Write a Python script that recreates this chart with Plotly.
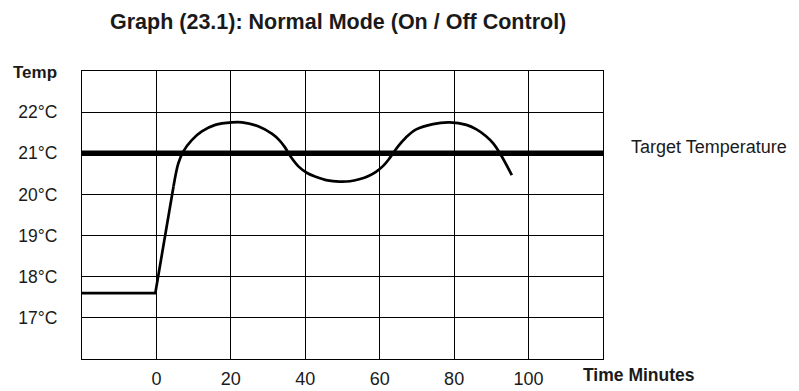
import plotly.graph_objects as go

# Data
ramp_time = [-20, -0.3, 4.6]
ramp_temp = [17.6, 17.6, 20.2]

curve_time = [4.6, 5.9, 7.2, 9.5, 12.2, 15.8, 20.3, 23.0, 27.5, 31.1, 33.0, 34.5, 36.0, 38.3, 40.5, 42.8,
              46.0, 49.1, 52.0, 54.5, 57.0, 59.0, 61.0, 62.4, 63.8, 65.2, 67.0, 69.8, 74.3, 78.8,
              83.3, 86.0, 88.5, 90.5, 92.3, 95.5]
curve_temp = [20.2, 20.76, 21.04, 21.32, 21.53, 21.69, 21.75, 21.75, 21.65, 21.47, 21.32, 21.15, 20.93, 20.67, 20.52, 20.43,
              20.34, 20.31, 20.32, 20.37, 20.45, 20.55, 20.7, 20.85, 21.03, 21.2, 21.38, 21.58, 21.71, 21.75,
              21.69, 21.58, 21.42, 21.24, 21.0, 20.47]

target_time = [-20, 120]
target_temp = [21, 21]

x_ticks = [0, 20, 40, 60, 80, 100]
x_ticklabels = ["0", "20", "40", "60", "80", "100"]
y_ticks = [17, 18, 19, 20, 21, 22]
y_ticklabels = ["17°C", "18°C", "19°C", "20°C", "21°C", "22°C"]

FONT = "Liberation Sans"
TXT = "#1a1a1a"

L, R, T, B = 82, 196, 71, 32
W, H = 799, 391

fig = go.Figure()
fig.add_trace(go.Scatter(x=target_time, y=target_temp, mode="lines",
                         line=dict(color="black", width=5.5), hoverinfo="skip"))
fig.add_trace(go.Scatter(x=ramp_time, y=ramp_temp, mode="lines",
                         line=dict(color="black", width=2.7), hoverinfo="skip"))
fig.add_trace(go.Scatter(x=curve_time, y=curve_temp, mode="lines",
                         line=dict(color="black", width=2.7, shape="spline", smoothing=1.0),
                         hoverinfo="skip"))

axis_common = dict(showgrid=True, gridcolor="black", gridwidth=1.3,
                   showline=True, linecolor="black", linewidth=1.3, mirror=True,
                   zeroline=False, ticks="", automargin=False, fixedrange=True)

fig.update_layout(
    width=W, height=H,
    margin=dict(l=L, r=R, t=T, b=B),
    paper_bgcolor="white", plot_bgcolor="white",
    showlegend=False,
    font=dict(family=FONT, color=TXT),
    xaxis=dict(range=[-20, 120], tickvals=x_ticks, ticktext=x_ticklabels,
               ticklabelstandoff=3,
               tickfont=dict(size=18, family=FONT, color=TXT), **axis_common),
    yaxis=dict(range=[16, 23], tickvals=y_ticks, ticktext=y_ticklabels,
               ticklabelstandoff=20,
               tickfont=dict(size=17.5, family=FONT, color=TXT), **axis_common),
)

pw = W - L - R
ph = H - T - B


def px_ann(text, x, y, xanchor, size, bold=False):
    return dict(text=text, xref="paper", yref="paper",
                x=(x - L) / pw, y=1 - (y - T) / ph,
                xanchor=xanchor, yanchor="middle", showarrow=False,
                font=dict(size=size, family=FONT, color=TXT, weight="bold" if bold else "normal"))


fig.update_layout(annotations=[
    px_ann("Graph (23.1): Normal Mode (On / Off Control)", 338, 22, "center", 21.5, True),
    px_ann("Temp", 11, 72, "left", 17, True),
    px_ann("Time Minutes", 581, 375, "left", 17.5, True),
    px_ann("Target Temperature", 629, 147, "left", 18),
])

fig.write_html("out.html", config={"displayModeBar": False},
               post_script="document.body.style.margin='0px';document.body.style.padding='0px';")
